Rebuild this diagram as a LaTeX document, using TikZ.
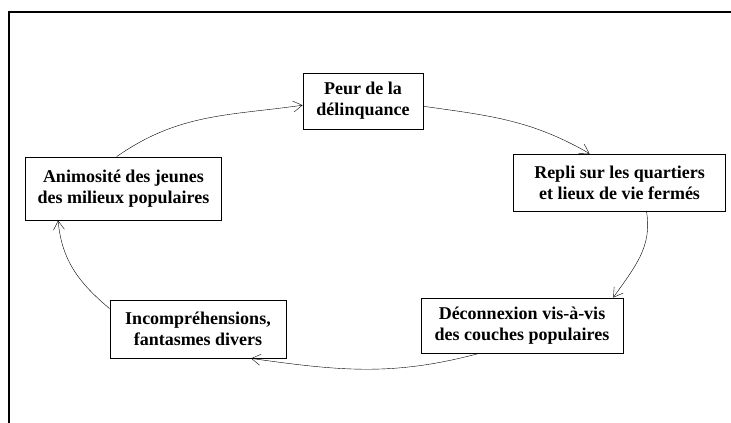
\documentclass[tikz,border=0pt]{standalone}
\usepackage{fontspec}
\setmainfont{Liberation Serif}
\usetikzlibrary{arrows.meta}
\begin{document}
\begin{tikzpicture}
[x=1pt,y=-1pt,>={Straight Barb[length=9pt,width=11pt]},
every node/.style={draw=black,thick,fill=white,align=center,inner sep=0pt,
  font=\fontsize{18}{21}\selectfont\bfseries}]
\useasboundingbox (0,0) rectangle (731,423);
\draw[line width=1.2pt] (9,423) -- (9,12) -- (731,12);
\node[minimum width=120pt,minimum height=56pt] (peur) at (363,101) {Peur de la\\d\'elinquance};
\node[minimum width=212pt,minimum height=57pt] (repli) at (619.5,182.5) {Repli sur les quartiers\\et lieux de vie ferm\'es};
\node[minimum width=202pt,minimum height=55pt] (decon) at (522,325.5) {D\'econnexion vis-\`a-vis\\des couches populaires};
\node[minimum width=176pt,minimum height=58pt] (incomp) at (198,329) {Incompr\'ehensions,\\fantasmes divers};
\node[minimum width=196pt,minimum height=63pt] (animo) at (123.5,188.5) {Animosit\'e des jeunes\\des milieux populaires};
\draw[->] (animo.102) to [out=35, in=188,looseness=1](peur.184);
\draw[->] (peur.-5) to [out=-8, in=150,looseness=1](repli.136);
\draw[->] (repli.-47) to [out=-80, in=55,looseness=1](decon.17);
\draw[->] (decon.213) to [out=195, in=-8,looseness=1](incomp.331);
\draw[->] (incomp.167) to [out=140, in=-85,looseness=1](animo.206);
\end{tikzpicture}
\end{document}
